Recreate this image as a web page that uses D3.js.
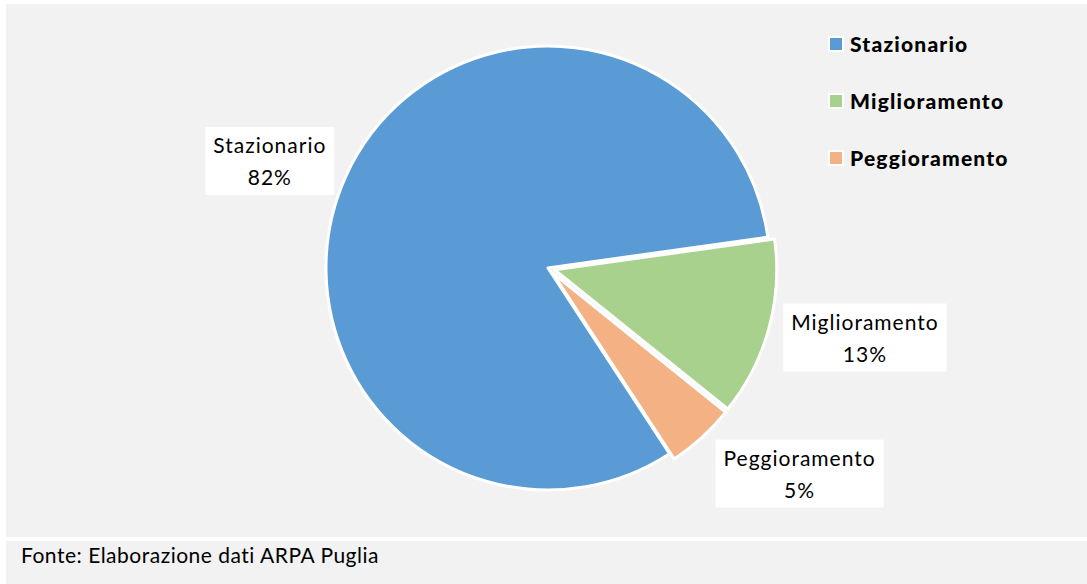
<!DOCTYPE html>
<html>
<head>
<meta charset="utf-8">
<script src="https://cdn.jsdelivr.net/npm/d3@7"></script>
<style>
  body { margin: 0; background: #fff; }
  svg { display: block; }
</style>
</head>
<body>
<div id="chart"></div>
<script>
// data
let categories = ['Stazionario', 'Miglioramento', 'Peggioramento'];
let shares = [82, 13, 5];
let colors = ['#5b9bd5', '#a9d18e', '#f4b183'];
let source = 'Fonte: Elaborazione dati ARPA Puglia';

// layout
let config = { svg: {}, pie: {}, legend: {} };
config.svg.width = 1087;
config.svg.height = 584;
config.pie.cx = 548;
config.pie.cy = 268;
config.pie.r = 222;
config.pie.start = 146.8; // degrees, clockwise from 12 o'clock
config.legend.x = 829;
config.legend.y = 44;
config.legend.step = 57;

// explode distance and label nudges per slice
let explode = [0, 7, 7];
let labelRadius = [300, 322, 318];
let labelNudge = [[-5, 17], [6.5, -16], [38, -30]];

let font = 'Lato, "Open Sans", sans-serif';

let svg = d3.select('#chart').append('svg')
  .attr('width', config.svg.width)
  .attr('height', config.svg.height);

// panels
svg.append('rect').attr('x', 6).attr('y', 4)
  .attr('width', config.svg.width - 6).attr('height', 533)
  .attr('fill', '#f2f2f2');
svg.append('rect').attr('x', 6).attr('y', 541)
  .attr('width', config.svg.width - 6).attr('height', 43)
  .attr('fill', '#f2f2f2');

svg.append('text')
  .attr('x', 21).attr('y', 563)
  .style('font-family', font).style('font-size', '21px')
  .style('letter-spacing', '0.5px')
  .attr('fill', '#000')
  .text(source);

let data = categories.map((c, i) => ({ name: c, value: shares[i], color: colors[i], i: i }));

let start = config.pie.start * Math.PI / 180;
let pie = d3.pie().sort(null).value(d => d.value)
  .startAngle(start).endAngle(start + 2 * Math.PI);
let arcs = pie(data);

let arc = d3.arc().innerRadius(0).outerRadius(config.pie.r);

let g = svg.append('g')
  .attr('transform', 'translate(' + config.pie.cx + ',' + config.pie.cy + ')');

function dir(a) {
  let m = (a.startAngle + a.endAngle) / 2;
  return [Math.sin(m), -Math.cos(m)];
}

g.selectAll('path.slice')
  .data(arcs)
  .enter()
  .append('path')
  .attr('class', 'slice')
  .attr('d', arc)
  .attr('transform', d => {
    let v = dir(d), e = explode[d.data.i];
    return 'translate(' + (v[0] * e) + ',' + (v[1] * e) + ')';
  })
  .attr('fill', d => d.data.color)
  .attr('stroke', '#fff')
  .attr('stroke-width', 3)
  .attr('stroke-linejoin', 'round');

// data labels
let labels = g.selectAll('g.label')
  .data(arcs)
  .enter()
  .append('g')
  .attr('class', 'label')
  .attr('transform', d => {
    let v = dir(d), lr = labelRadius[d.data.i], n = labelNudge[d.data.i];
    return 'translate(' + (v[0] * lr + n[0]) + ',' + (v[1] * lr + n[1]) + ')';
  });

labels.each(function(d) {
  let el = d3.select(this);
  let box = el.append('rect').attr('fill', '#fff');
  let t = el.append('text')
    .attr('text-anchor', 'middle')
    .style('font-family', font).style('font-size', '21px')
    .style('letter-spacing', '1px')
    .attr('fill', '#000');
  t.append('tspan').attr('x', 0).attr('y', -8).text(d.data.name);
  t.append('tspan').attr('x', 0).attr('y', 24).text(d.data.value + '%');
  let w = t.node().getBBox().width + 16;
  box.attr('x', -w / 2).attr('y', -34).attr('width', w).attr('height', 68);
});

// legend
let legend = svg.append('g')
  .attr('transform', 'translate(' + config.legend.x + ',' + config.legend.y + ')');
let items = legend.selectAll('g')
  .data(data)
  .enter()
  .append('g')
  .attr('transform', (d, i) => 'translate(0,' + i * config.legend.step + ')');
items.append('rect')
  .attr('x', 0).attr('y', -7).attr('width', 14).attr('height', 14)
  .attr('fill', d => d.color)
  .attr('stroke', '#fff').attr('stroke-width', 2);
items.append('text')
  .attr('x', 21).attr('y', 8)
  .style('font-family', font).style('font-size', '21px').style('font-weight', '900')
  .style('letter-spacing', '1.2px')
  .attr('fill', '#000')
  .text(d => d.name);
</script>
</body>
</html>
